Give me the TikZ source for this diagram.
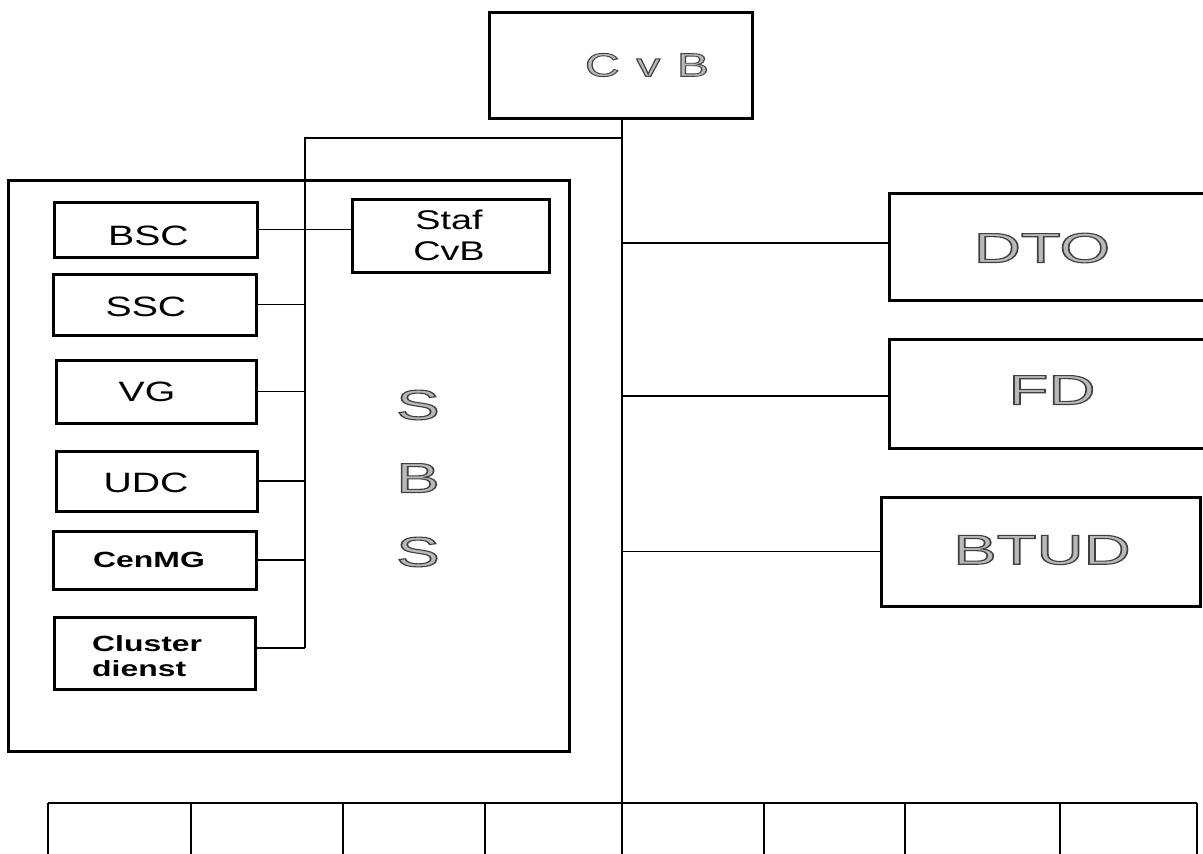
\documentclass[tikz,border=0pt]{standalone}
\usepackage{graphicx}
\usepackage{fontspec}
\setmainfont{Liberation Sans}
\newfontfamily\embfont[RawFeature={embolden=2.6}]{Liberation Sans}
\newcommand\embtext[1]{{\embfont\color{gray!55}\special{pdf:literal 0.25 G}#1}}
\newcommand\sx[2]{\scalebox{#1}[1]{#2}}
\begin{document}
\begin{tikzpicture}[x=1pt,y=-1pt,
  box/.style={draw, line width=3pt, inner sep=0pt},
  conn/.style={line width=1.6pt},
  txt/.style={inner sep=0pt, align=center},
  small/.style={font=\fontsize{28}{31}\selectfont},
  bsmall/.style={font=\bfseries\fontsize{22}{25}\selectfont},
  big/.style={font=\fontsize{42}{46}\selectfont}]
\useasboundingbox (0,0) rectangle (1203,854);
\fill[white] (0,0) rectangle (1203,854);
\begin{scope}
\clip (0,0) rectangle (1203,854);
% boxes
\node[box, minimum width=263, minimum height=106] (cvb) at (620.5,65) {};
\node[box, minimum width=561, minimum height=571] (sbs) at (288.5,465.5) {};
\node[box, minimum width=203, minimum height=55] (bsc) at (155.5,229.5) {};
\node[box, minimum width=197, minimum height=73] (staf) at (450.5,235.5) {};
\node[box, minimum width=203, minimum height=61] (ssc) at (154.5,304.5) {};
\node[box, minimum width=200, minimum height=63] (vg) at (156,391.5) {};
\node[box, minimum width=201, minimum height=60] (udc) at (156.5,481) {};
\node[box, minimum width=203, minimum height=58] (cenmg) at (154.5,560) {};
\node[box, minimum width=201, minimum height=72] (cluster) at (154.5,653) {};
\node[box, minimum width=317, minimum height=107] (dto) at (1047.5,246.5) {};
\node[box, minimum width=317, minimum height=109] (fd) at (1047.5,393.5) {};
\node[box, minimum width=319, minimum height=109] (btud) at (1040.5,551.5) {};
% texts
\node[txt, font=\fontsize{33}{36}\selectfont] (cvbt) at (647,65) {\sx{1.45}{\embtext{C\hspace{0.35em}v\hspace{0.35em}B}}};
\node[txt, small] (bsct) at (148.5,236) {\sx{1.4}{BSC}};
\node[txt, font=\fontsize{27}{31}\selectfont] (staft) at (449,239) {\sx{1.4}{\begin{tabular}{@{}c@{}}Staf\\CvB\end{tabular}}};
\node[txt, small] (ssct) at (146,307) {\sx{1.4}{SSC}};
\node[txt, small] (vgt) at (147,392) {\sx{1.4}{VG}};
\node[txt, small] (udct) at (146,483) {\sx{1.4}{UDC}};
\node[txt, bsmall] (cenmgt) at (149,560) {\sx{1.45}{CenMG}};
\node[txt, bsmall, anchor=west] (clustert) at (92,659) {\sx{1.45}{\begin{tabular}{@{}l@{}}Cluster\\dienst\end{tabular}}};
\node[txt, big] (dtot) at (1042,248) {\sx{1.55}{\embtext{DTO}}};
\node[txt, big] (fdt) at (1052,390) {\sx{1.55}{\embtext{FD}}};
\node[txt, big] (btudt) at (1042,550) {\sx{1.55}{\embtext{BTUD}}};
\node[txt, big] (s1) at (418,405) {\sx{1.55}{\embtext{S}}};
\node[txt, big] (b1) at (418,478) {\sx{1.55}{\embtext{B}}};
\node[txt, big] (s2) at (418,552) {\sx{1.55}{\embtext{S}}};
% connectors
\coordinate (bus) at (622,803);
\coordinate (trunkend) at (622,860);
\coordinate (jl) at (622,138);
\coordinate (stafbus) at (305,138);
\coordinate (clj) at ([yshift=5pt]cluster.east);
\draw[conn] (bus |- cvb.south) -- (trunkend);
\draw[conn] (jl) -- (stafbus) -- (stafbus |- clj);
\draw[conn] (clj) -- (stafbus |- clj);
\draw[conn] (bsc.east) -- (bsc.east -| staf.west);
\draw[conn] (ssc.east) -- (ssc.east -| stafbus);
\draw[conn] (vg.east) -- (vg.east -| stafbus);
\draw[conn] (udc.east) -- (udc.east -| stafbus);
\draw[conn] (cenmg.east) -- (cenmg.east -| stafbus);
\coordinate (dtoj) at ([yshift=3.5pt]dto.west);
\coordinate (fdj) at ([yshift=-2.5pt]fd.west);
\draw[conn] (bus |- dtoj) -- (dtoj);
\draw[conn] (bus |- fdj) -- (fdj);
\draw[conn] (bus |- btud.west) -- (btud.west);
% bottom bar
\coordinate (bl) at (48,803);
\coordinate (br) at (1197,803);
\draw[line width=2pt] (bl) -- (br);
\foreach \i/\x in {1/48,2/191,3/343,4/485,5/764,6/905,7/1060,8/1197}{
  \coordinate (t\i) at (\x,803);
  \coordinate (e\i) at (\x,860);
  \draw[line width=2pt] (t\i) -- (e\i);
}
\end{scope}
\end{tikzpicture}
\end{document}
